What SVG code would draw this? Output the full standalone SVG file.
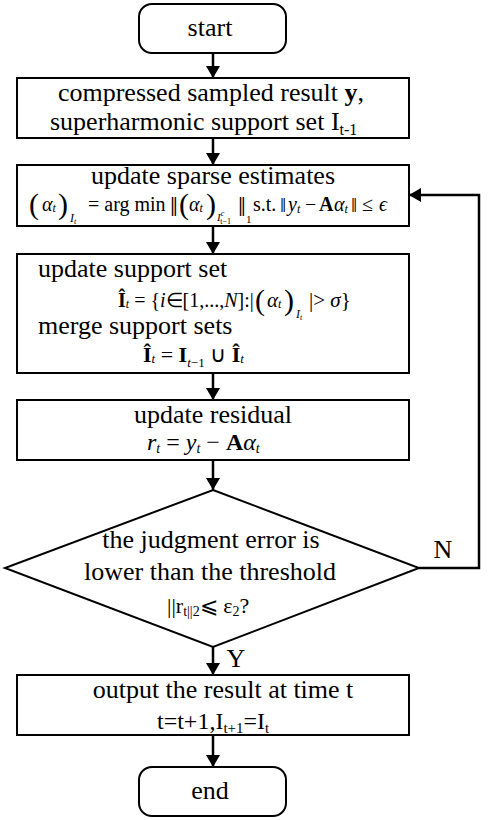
<svg xmlns="http://www.w3.org/2000/svg" width="498" height="820" viewBox="0 0 498 820">
<style>
.b{fill:#fff;stroke:#000;stroke-width:2}
.c{stroke:#000;stroke-width:2.5;fill:none}
</style>
<defs>
<marker id="ah" viewBox="0 0 12 14" refX="12" refY="7" markerWidth="12" markerHeight="14" markerUnits="userSpaceOnUse" orient="auto">
<path d="M0,0 L12,7 L0,14 Z" fill="#000"/>
</marker>
</defs>
<rect width="498" height="820" fill="#fff"/>
<g id="connectors">
<line class="c" x1="213" y1="53" x2="213" y2="78" marker-end="url(#ah)"/>
<line class="c" x1="213" y1="138" x2="213" y2="165" marker-end="url(#ah)"/>
<line class="c" x1="213" y1="226" x2="213" y2="254" marker-end="url(#ah)"/>
<line class="c" x1="213" y1="373" x2="213" y2="400" marker-end="url(#ah)"/>
<line class="c" x1="213" y1="460" x2="213" y2="490" marker-end="url(#ah)"/>
<line class="c" x1="213" y1="647" x2="213" y2="675" marker-end="url(#ah)"/>
<line class="c" x1="213" y1="735" x2="213" y2="767" marker-end="url(#ah)"/>
<polyline class="c" points="419,568 479,568 479,195 409,195" marker-end="url(#ah)"/>
<text font-family="Liberation Serif" font-size="26" x="443" y="558" text-anchor="middle">N</text>
<text font-family="Liberation Serif" font-size="26" x="236" y="667" text-anchor="middle">Y</text>
</g>
<g id="start">
<rect class="b" x="139" y="4" width="147" height="49" rx="13"/>
<text font-family="Liberation Serif" font-size="26" x="210" y="36" text-anchor="middle">start</text>
</g>
<g id="input">
<rect class="b" x="17" y="78" width="392" height="60"/>
<text font-family="Liberation Serif" font-size="26" x="211" y="101" text-anchor="middle">compressed sampled result <tspan font-weight="bold">y</tspan>,</text>
<text font-family="Liberation Serif" font-size="26" x="50" y="130">superharmonic support set I<tspan font-size="16" dy="5">t-1</tspan></text>
</g>
<g id="sparse">
<rect class="b" x="17" y="165" width="392" height="61"/>
<text font-family="Liberation Serif" font-size="26" x="213" y="184" text-anchor="middle">update sparse estimates</text>
<text font-family="Liberation Serif" font-size="30" x="29" y="214">(</text>
<text font-family="Liberation Serif" font-size="20" font-style="italic" x="42" y="211">α<tspan font-size="12" dy="1">t</tspan></text>
<text font-family="Liberation Serif" font-size="30" x="58" y="214">)</text>
<text font-family="Liberation Serif" font-size="12" font-style="italic" x="70" y="222">I<tspan font-size="8" dy="2">t</tspan></text>
<text font-family="Liberation Serif" font-size="20" x="88" y="211">= arg min</text>
<text font-family="Liberation Serif" font-size="28" x="170" y="216">‖</text>
<text font-family="Liberation Serif" font-size="30" x="179" y="214">(</text>
<text font-family="Liberation Serif" font-size="20" font-style="italic" x="189" y="211">α<tspan font-size="12" dy="1">t</tspan></text>
<text font-family="Liberation Serif" font-size="30" x="206" y="214">)</text>
<text font-family="Liberation Serif" font-size="11" font-style="italic" x="217" y="221">I<tspan font-size="8" dy="-5">c</tspan><tspan font-size="8" dx="-4" dy="8" font-style="normal">t−1</tspan></text>
<text font-family="Liberation Serif" font-size="28" x="238" y="216">‖</text>
<text font-family="Liberation Serif" font-size="11" x="246" y="223">1</text>
<text font-family="Liberation Serif" font-size="20" x="253" y="211">s.t.</text>
<text font-family="Liberation Serif" font-size="22" x="280" y="212">‖</text>
<text font-family="Liberation Serif" font-size="20" font-style="italic" x="288" y="211">y<tspan font-size="12" dy="2">t</tspan></text>
<text font-family="Liberation Serif" font-size="20" x="305" y="211">−</text>
<text font-family="Liberation Serif" font-size="20" font-weight="bold" x="319" y="211">A</text>
<text font-family="Liberation Serif" font-size="20" font-style="italic" x="334" y="211">α<tspan font-size="12" dy="2">t</tspan></text>
<text font-family="Liberation Serif" font-size="22" x="351" y="212">‖</text>
<text font-family="Liberation Serif" font-size="20" x="362" y="211">≤</text>
<text font-family="Liberation Serif" font-size="20" font-style="italic" x="379" y="211">ϵ</text>
</g>
<g id="support">
<rect class="b" x="17" y="254" width="392" height="119"/>
<text font-family="Liberation Serif" font-size="26" x="38" y="277">update support set</text>
<text font-family="Liberation Serif" font-size="20" x="118" y="307"><tspan font-weight="bold">Î</tspan><tspan font-style="italic" font-size="12" dy="1">t</tspan><tspan dy="-1"> = {</tspan><tspan font-style="italic">i</tspan>∈[1,...,<tspan font-style="italic">N</tspan>]:|</text>
<text font-family="Liberation Serif" font-size="30" x="255" y="310">(</text>
<text font-family="Liberation Serif" font-size="21" font-style="italic" x="267" y="307">α<tspan font-size="12" dy="1">t</tspan></text>
<text font-family="Liberation Serif" font-size="30" x="284" y="310">)</text>
<text font-family="Liberation Serif" font-size="12" font-style="italic" x="296" y="318">I<tspan font-size="8" dy="2">t</tspan></text>
<text font-family="Liberation Serif" font-size="21" x="309" y="307">|&gt; <tspan font-style="italic">σ</tspan>}</text>
<text font-family="Liberation Serif" font-size="26" x="38" y="334">merge support sets</text>
<text font-family="Liberation Serif" font-size="22" x="143" y="362"><tspan font-weight="bold">Î</tspan><tspan font-style="italic" font-size="13" dy="1">t</tspan><tspan dy="-1"> = </tspan><tspan font-weight="bold">I</tspan><tspan font-style="italic" font-size="13" dy="5">t</tspan><tspan font-size="13">−1</tspan><tspan dy="-5"> ∪ </tspan><tspan font-weight="bold">Î</tspan><tspan font-style="italic" font-size="13" dy="1">t</tspan></text>
</g>
<g id="residual">
<rect class="b" x="17" y="400" width="392" height="60"/>
<text font-family="Liberation Serif" font-size="26" x="213" y="423" text-anchor="middle">update residual</text>
<text font-family="Liberation Serif" font-size="24" font-style="italic" x="147" y="450">r<tspan font-size="14" dy="3">t</tspan><tspan font-style="normal" dy="-3"> = </tspan>y<tspan font-size="14" dy="3">t</tspan><tspan font-style="normal" dy="-3"> − </tspan><tspan font-style="normal" font-weight="bold">A</tspan>α<tspan font-size="14" dy="3">t</tspan></text>
</g>
<g id="decision">
<polygon class="b" points="213,490 419,568 213,647 5,568"/>
<text font-family="Liberation Serif" font-size="26" x="211" y="548" text-anchor="middle">the judgment error is</text>
<text font-family="Liberation Serif" font-size="26" x="210" y="580" text-anchor="middle">lower than the threshold</text>
<text font-family="Liberation Serif" font-size="22" x="167" y="613">||r<tspan font-size="14" dy="3">t</tspan><tspan font-size="14">||2</tspan><tspan dy="-3">⩽ ε</tspan><tspan font-size="14" dy="3">2</tspan><tspan dy="-3">?</tspan></text>
</g>
<g id="output">
<rect class="b" x="17" y="675" width="392" height="60"/>
<text font-family="Liberation Serif" font-size="26" x="223" y="698" text-anchor="middle">output the result at time t</text>
<text font-family="Liberation Serif" font-size="24" x="157" y="729">t=t+1,I<tspan font-size="15" dy="4">t+1</tspan><tspan dy="-4">=I</tspan><tspan font-size="15" dy="4">t</tspan></text>
</g>
<g id="end">
<rect class="b" x="139" y="767" width="147" height="49" rx="13"/>
<text font-family="Liberation Serif" font-size="26" x="210" y="799" text-anchor="middle">end</text>
</g>
</svg>
